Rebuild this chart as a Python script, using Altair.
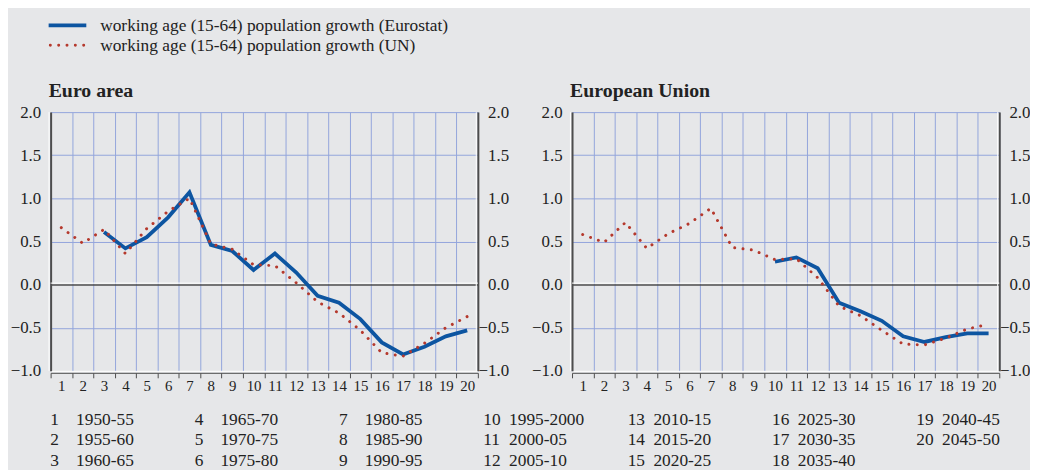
import altair as alt
import pandas as pd

# ---------------- data ----------------
periods = ["1950-55", "1955-60", "1960-65", "1965-70", "1970-75", "1975-80",
           "1980-85", "1985-90", "1990-95", "1995-2000", "2000-05", "2005-10",
           "2010-15", "2015-20", "2020-25", "2025-30", "2030-35", "2035-40",
           "2040-45", "2045-50"]

ea_eurostat = [None, None, 0.61, 0.42, 0.55, 0.78, 1.07, 0.46, 0.39, 0.17,
               0.36, 0.14, -0.13, -0.21, -0.40, -0.67, -0.81, -0.72, -0.60, -0.53]
ea_un = [0.66, 0.48, 0.64, 0.36, 0.65, 0.85, 1.00, 0.47, 0.41, 0.23,
         0.22, 0.02, -0.20, -0.33, -0.53, -0.79, -0.83, -0.68, -0.50, -0.37]

eu_eurostat = [None, None, None, None, None, None, None, None, None, 0.265,
               0.315, 0.19, -0.21, -0.31, -0.42, -0.60, -0.665, -0.61, -0.565, -0.565]
eu_un = [0.58, 0.49, 0.72, 0.42, 0.59, 0.71, 0.885, 0.43, 0.40, 0.29,
         0.30, 0.08, -0.25, -0.36, -0.53, -0.69, -0.70, -0.62, -0.515, -0.46]

series_labels = ["working age (15-64) population growth (Eurostat)",
                 "working age (15-64) population growth (UN)"]
panel_titles = ["Euro area", "European Union"]
y_ticks = [-1.0, -0.5, 0.0, 0.5, 1.0, 1.5, 2.0]

# ---------------- styles ----------------
BG = "#e6e7e9"
GRID = "#93a5dc"
BLUE = "#0d55a1"
RED = "#b5392d"
AXIS = "#4d4d4d"
TEXT = "#222222"
FONT = "Liberation Serif"
W, H = 431, 261

one_row = pd.DataFrame({"k": [0]})


def frame(eurostat, un):
    return pd.DataFrame({"period": list(range(1, len(periods) + 1)),
                         "eurostat": eurostat, "un": un})


yscale = alt.Scale(domain=[-1, 2], nice=False, zero=False)

x_enc = alt.X(
    "period:O",
    bandPosition=0.5,
    scale=alt.Scale(type="band", paddingInner=0, paddingOuter=0),
    axis=alt.Axis(title=None, tickBand="extent", grid=True, gridColor=GRID,
                  gridWidth=1, domainColor=AXIS, domainWidth=1, tickColor=AXIS,
                  tickSize=5, offset=2, labelAngle=0, labelFont=FONT,
                  labelFontSize=15, labelColor=TEXT, labelPadding=1),
)

y_left_axis = alt.Axis(
    title=None, orient="left", values=y_ticks, format=".1f", grid=True,
    gridColor={"condition": [{"test": "datum.value === 0", "value": AXIS},
                             {"test": "datum.value === -1", "value": "#ffffff"}],
               "value": GRID},
    gridWidth={"condition": {"test": "datum.value === 0", "value": 1.5}, "value": 1},
    domainColor=AXIS, domainWidth=2, ticks=False, labelPadding=10,
    labelFont=FONT, labelFontSize=17, labelColor=TEXT)

y_right_axis = alt.Axis(
    title=None, orient="right", values=y_ticks, format=".1f", grid=False,
    domainColor=AXIS, domainWidth=2, ticks=False, labelAlign="right",
    labelPadding=31, labelFont=FONT, labelFontSize=17, labelColor=TEXT)


def panel(title, eurostat, un, with_legend=False):
    df = frame(eurostat, un)
    zero_white = alt.Chart(one_row).mark_rule(
        color="white", strokeWidth=1, yOffset=-1.5
    ).encode(y=alt.YDatum(0, axis=None, scale=yscale))

    # light edge just inside-left of each vertical frame line
    edge_white = alt.Chart(one_row).mark_rule(color="white", strokeWidth=1).encode(
        x=alt.value(-1.6), y=alt.value(0), y2=alt.value(H))
    edge_white_r = alt.Chart(one_row).mark_rule(color="white", strokeWidth=1).encode(
        x=alt.value(W - 1.6), y=alt.value(0), y2=alt.value(H))

    line_e = alt.Chart(df).transform_filter("isValid(datum.eurostat)").mark_line(
        color=BLUE, strokeWidth=3.8
    ).encode(x=x_enc, y=alt.Y("eurostat:Q", scale=yscale, axis=y_left_axis))

    line_u = alt.Chart(df).transform_filter("isValid(datum.un)").mark_line(
        color=RED, strokeWidth=3, strokeDash=[0.01, 8.4], strokeCap="round"
    ).encode(x=x_enc, y=alt.Y("un:Q", scale=yscale, axis=y_right_axis))

    title_mark = alt.Chart(one_row).mark_text(
        align="left", baseline="alphabetic", font=FONT, fontSize=20,
        fontWeight="bold", color=TEXT
    ).encode(x=alt.value(-2), y=alt.value(-15.7), text=alt.value(title))

    layers = [zero_white, edge_white, edge_white_r, line_e, line_u, title_mark]

    if with_legend:
        leg_blue = alt.Chart(one_row).mark_rule(color=BLUE, strokeWidth=3.8).encode(
            x=alt.value(-2), x2=alt.value(36), y=alt.value(-87.4))
        leg_red = alt.Chart(one_row).mark_rule(
            color=RED, strokeWidth=3, strokeDash=[0.01, 8.4], strokeCap="round"
        ).encode(x=alt.value(-0.3), x2=alt.value(35), y=alt.value(-67.4))
        leg_t1 = alt.Chart(one_row).mark_text(
            align="left", baseline="alphabetic", font=FONT, fontSize=17.5, color=TEXT
        ).encode(x=alt.value(50), y=alt.value(-81.4), text=alt.value(series_labels[0]))
        leg_t2 = alt.Chart(one_row).mark_text(
            align="left", baseline="alphabetic", font=FONT, fontSize=17.5, color=TEXT
        ).encode(x=alt.value(50), y=alt.value(-61.4), text=alt.value(series_labels[1]))

        table = alt.Chart(pd.DataFrame({"label": periods})).transform_window(
            idx="row_number()"
        ).transform_calculate(
            col="floor((datum.idx - 1) / 3)",
            row="(datum.idx - 1) % 3",
        ).transform_calculate(
            px_num="datum.col * 145.6 - 0.3",
            px_per="datum.col * 145.6 + 25.7",
            py="315.3 + datum.row * 20.75",
        )
        t_num = table.mark_text(
            align="left", baseline="alphabetic", font=FONT, fontSize=17.5, color=TEXT
        ).encode(x=alt.X("px_num:Q", scale=None, axis=None),
                 y=alt.Y("py:Q", scale=None, axis=None),
                 text=alt.Text("idx:Q", format="d"))
        t_per = table.mark_text(
            align="left", baseline="alphabetic", font=FONT, fontSize=17.5, color=TEXT
        ).encode(x=alt.X("px_per:Q", scale=None, axis=None),
                 y=alt.Y("py:Q", scale=None, axis=None),
                 text="label:N")
        layers += [leg_blue, leg_red, leg_t1, leg_t2, t_num, t_per]

    return alt.layer(*layers).resolve_axis(y="independent").properties(
        width=W, height=H)


ea = panel(panel_titles[0], ea_eurostat, ea_un, with_legend=True)
eu = panel(panel_titles[1], eu_eurostat, eu_un)

chart = alt.hconcat(ea, eu, spacing=95, bounds="flush").properties(
    padding={"left": 2, "top": 7, "right": 0, "bottom": 0}
).configure(background=BG, font=FONT).configure_view(strokeWidth=0)

chart.save("out.html", embed_options={"renderer": "svg", "actions": False})
